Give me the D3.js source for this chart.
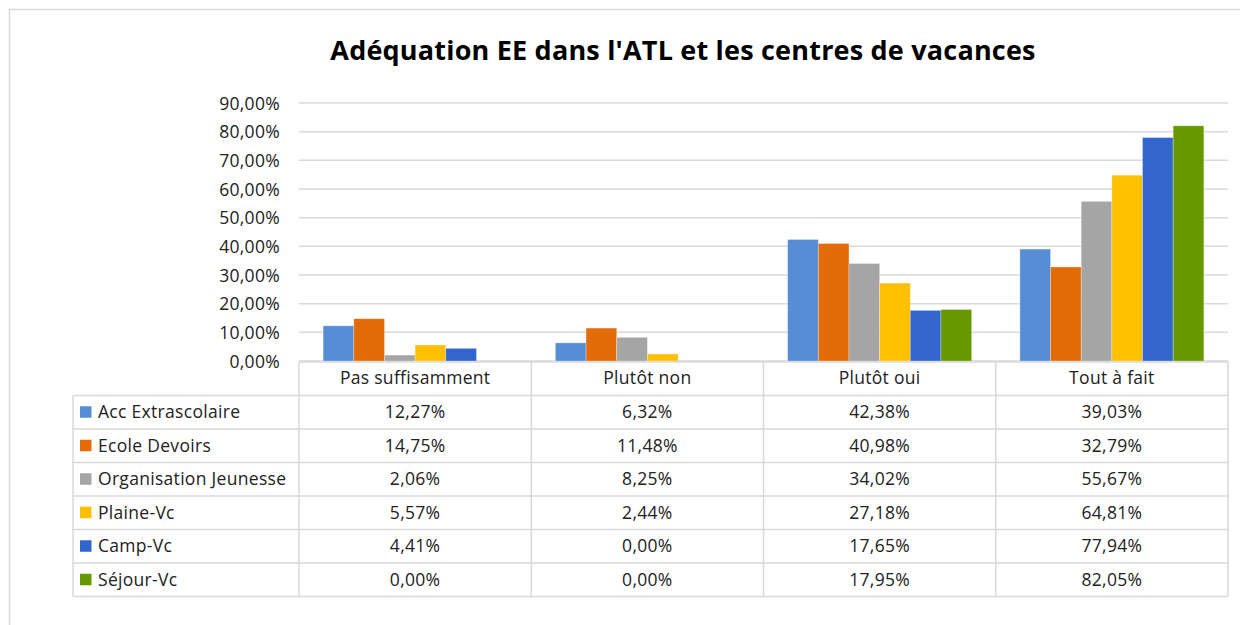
<!DOCTYPE html>
<html>
<head>
<meta charset="utf-8">
<script src="https://cdn.jsdelivr.net/npm/d3@7"></script>
<style>
  html, body { margin: 0; padding: 0; background: #fff; }
  svg { display: block; }
  text { font-family: "Open Sans", "Noto Sans", sans-serif; fill: #222; }
</style>
</head>
<body>
<svg id="chart" width="1240" height="625"></svg>
<script>
// Response categories (x axis / table columns)
const categories = ["Pas suffisamment", "Plutôt non", "Plutôt oui", "Tout à fait"];

// Structures surveyed (one series each)
const seriesNames = ["Acc Extrascolaire", "Ecole Devoirs", "Organisation Jeunesse", "Plaine-Vc", "Camp-Vc", "Séjour-Vc"];

// Percentages per structure, in category order
const accExtrascolaire     = [12.27, 6.32, 42.38, 39.03];
const ecoleDevoirs         = [14.75, 11.48, 40.98, 32.79];
const organisationJeunesse = [2.06, 8.25, 34.02, 55.67];
const plaineVc             = [5.57, 2.44, 27.18, 64.81];
const campVc               = [4.41, 0.00, 17.65, 77.94];
const sejourVc             = [0.00, 0.00, 17.95, 82.05];

const seriesColors = ["#558ED5", "#E36C09", "#A5A5A5", "#FFC000", "#3366CC", "#669900"];

// Y axis ticks
const yTicks = [0, 10, 20, 30, 40, 50, 60, 70, 80, 90];

const seriesValues = [accExtrascolaire, ecoleDevoirs, organisationJeunesse, plaineVc, campVc, sejourVc];
const series = seriesNames.map((name, i) => ({ name, color: seriesColors[i], values: seriesValues[i] }));

const fmt = v => v.toFixed(2).replace(".", ",") + "%";
const fontSize = 17.5;
const spacing = "0.3px";

const svg = d3.select("#chart");

// Outer chart frame
svg.append("rect")
  .attr("x", 9.5).attr("y", 9.5)
  .attr("width", 1300).attr("height", 700)
  .attr("fill", "none").attr("stroke", "#d9d9d9").attr("stroke-width", 1.5);

// Title
svg.append("text")
  .attr("x", 683).attr("y", 60)
  .attr("text-anchor", "middle")
  .attr("font-size", 27).attr("font-weight", "bold")
  .style("letter-spacing", "0.2px")
  .style("fill", "#000")
  .text("Adéquation EE dans l'ATL et les centres de vacances");

const plot = { left: 299, right: 1228, top: 103, bottom: 361 };

const x0 = d3.scaleBand().domain(categories).range([plot.left, plot.right]).padding(0);
const bw = x0.bandwidth();
const x1 = d3.scaleBand().domain(seriesNames).range([bw * 0.104, bw * 0.896]).padding(0);
const y = d3.scaleLinear().domain([0, 90]).range([plot.bottom, plot.top]);

// Horizontal gridlines
svg.append("g")
  .selectAll("line")
  .data(yTicks)
  .join("line")
  .attr("x1", plot.left).attr("x2", plot.right)
  .attr("y1", d => y(d)).attr("y2", d => y(d))
  .attr("stroke", "#d9d9d9").attr("stroke-width", 1.5);

// Y axis labels
const yAxis = d3.axisLeft(y).tickValues(yTicks).tickSize(0).tickPadding(0).tickFormat(fmt);
const yg = svg.append("g").attr("transform", `translate(${280},0)`).call(yAxis);
yg.select(".domain").remove();
yg.selectAll("text").attr("font-size", fontSize).attr("dy", "0.35em")
  .style("letter-spacing", spacing)
  .style("font-family", '"Open Sans", sans-serif').style("fill", "#222");

// Bars
const groups = svg.append("g")
  .selectAll("g")
  .data(categories)
  .join("g")
  .attr("transform", d => `translate(${x0(d)},0)`);

groups.selectAll("rect")
  .data((c, ci) => series.map(s => ({ name: s.name, color: s.color, value: s.values[ci] })))
  .join("rect")
  .attr("x", d => x1(d.name))
  .attr("width", x1.bandwidth())
  .attr("y", d => y(d.value))
  .attr("height", d => y(0) - y(d.value))
  .attr("fill", d => d.color)
  .attr("stroke", "#ffffff").attr("stroke-opacity", 0.35).attr("stroke-width", 0.8);

// Data table under the plot
const tableLeft = 73;
const headerTop = plot.bottom;
const headerH = 34.5;
const rowH = 33.5;
const tableBottom = headerTop + headerH + rowH * series.length;
const lineColor = "#d9d9d9";
const table = svg.append("g");

// Header cells (category labels)
table.selectAll("text.cat")
  .data(categories)
  .join("text")
  .attr("class", "cat")
  .attr("x", d => x0(d) + bw / 2)
  .attr("y", headerTop + headerH / 2)
  .attr("dy", "0.35em")
  .attr("text-anchor", "middle")
  .attr("font-size", fontSize)
  .style("letter-spacing", spacing)
  .text(d => d);

// Horizontal table lines
const hLines = d3.range(series.length + 1).map(i => headerTop + headerH + i * rowH);
table.selectAll("line.h")
  .data(hLines)
  .join("line")
  .attr("class", "h")
  .attr("x1", tableLeft).attr("x2", plot.right)
  .attr("y1", d => d).attr("y2", d => d)
  .attr("stroke", lineColor).attr("stroke-width", 1.5);

// Header top line spans only the category columns
table.append("line")
  .attr("x1", plot.left).attr("x2", plot.right)
  .attr("y1", headerTop + 1).attr("y2", headerTop + 1)
  .attr("stroke", lineColor).attr("stroke-width", 1.5);

// Vertical lines: category column borders
const vPos = categories.map(c => x0(c)).concat([plot.right]);
table.selectAll("line.v")
  .data(vPos)
  .join("line")
  .attr("class", "v")
  .attr("x1", d => d).attr("x2", d => d)
  .attr("y1", headerTop + 1).attr("y2", tableBottom)
  .attr("stroke", lineColor).attr("stroke-width", 1.5);

// Left border of legend column
table.append("line")
  .attr("x1", tableLeft).attr("x2", tableLeft)
  .attr("y1", headerTop + headerH).attr("y2", tableBottom)
  .attr("stroke", lineColor).attr("stroke-width", 1.5);

// Rows: legend key + values
const rows = table.selectAll("g.row")
  .data(series)
  .join("g")
  .attr("class", "row")
  .attr("transform", (d, i) => `translate(0,${headerTop + headerH + i * rowH + rowH / 2})`);

rows.append("rect")
  .attr("x", 80).attr("y", -6)
  .attr("width", 11.5).attr("height", 11.5)
  .attr("fill", d => d.color);

rows.append("text")
  .attr("x", 98).attr("dy", "0.35em")
  .attr("font-size", fontSize)
  .style("letter-spacing", spacing)
  .text(d => d.name);

rows.selectAll("text.val")
  .data(d => d.values.map((v, ci) => ({ v, c: categories[ci] })))
  .join("text")
  .attr("class", "val")
  .attr("x", d => x0(d.c) + bw / 2)
  .attr("dy", "0.35em")
  .attr("text-anchor", "middle")
  .attr("font-size", fontSize)
  .style("letter-spacing", spacing)
  .text(d => fmt(d.v));
</script>
</body>
</html>
